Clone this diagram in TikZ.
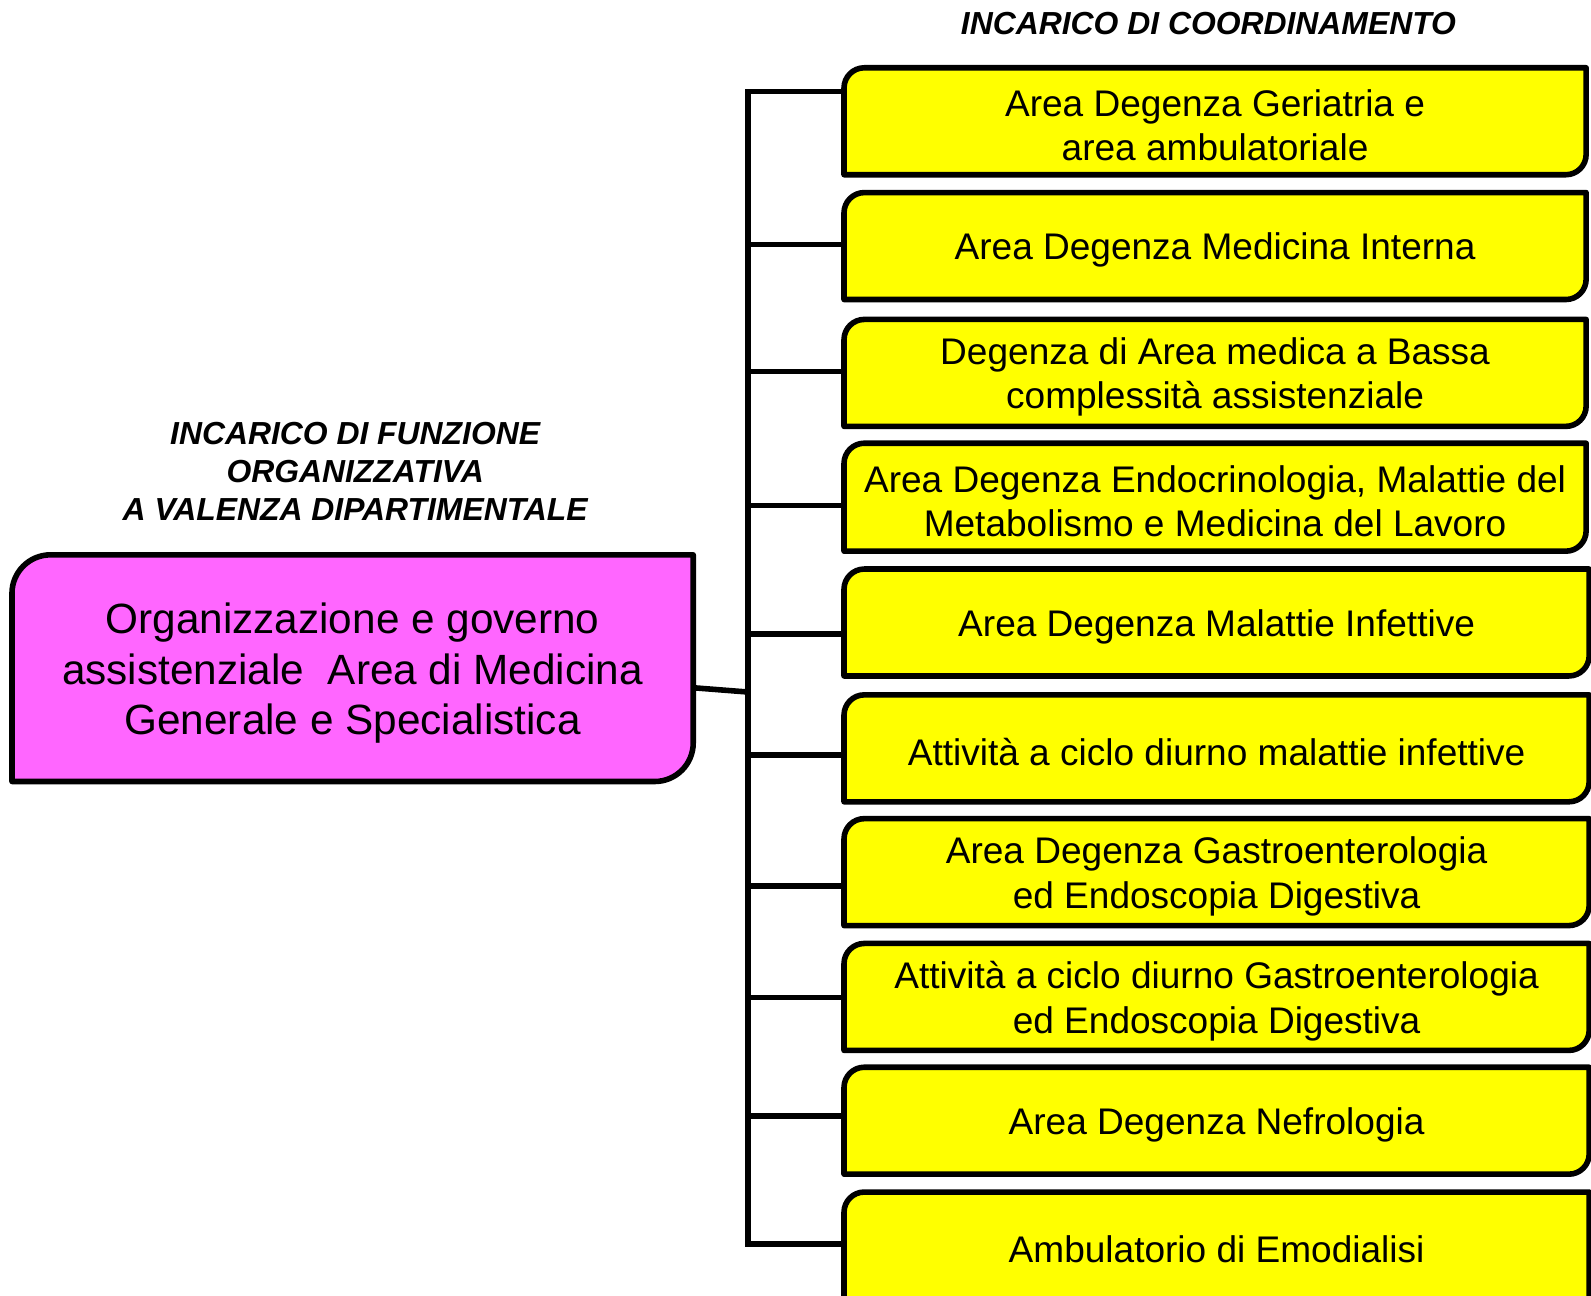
\documentclass[tikz,border=0pt]{standalone}
\usepackage{fontspec}
\setmainfont{Liberation Sans}
\usetikzlibrary{calc}
\definecolor{boxyellow}{HTML}{FFFF00}
\definecolor{boxpink}{HTML}{FF66FF}
\pgfdeclarelayer{bg}
\pgfsetlayers{bg,main}
\tikzset{
  ytext/.style={inner sep=0pt, align=center, font=\fontsize{36.5}{44}\selectfont, minimum height=105pt},
  ptext/.style={inner sep=0pt, align=center, font=\fontsize{41.7}{50}\selectfont, minimum width=671pt, minimum height=223pt},
  head/.style={inner sep=0pt, align=center, font=\fontsize{31.4}{37.5}\selectfont\bfseries\itshape},
  outline/.style={line width=5.5pt, draw=black, line join=round},
  conn/.style={line width=5.5pt, draw=black, line join=miter},
}
% #1 node name, #2 corner radius, #3 fill colour, #4 extension of the bottom edge, #5 upward offset of the outline
\newcommand{\snipbox}[5]{%
  \begin{pgfonlayer}{bg}
  \draw[outline, fill=#3]
    ($(#1.south west)+(0,#5-#4)$) -- ($(#1.north west)+(0,#5-#2)$)
    arc[start angle=180, end angle=90, radius=#2]
    -- ($(#1.north east)+(0,#5)$) -- ($(#1.south east)+(0,#5+#2-#4)$)
    arc[start angle=0, end angle=-90, radius=#2]
    -- cycle;
  \end{pgfonlayer}}
\begin{document}
\begin{tikzpicture}[x=1pt,y=1pt]
\useasboundingbox (0,0) rectangle (1568,-1276.3);
\begin{pgfonlayer}{bg}
\fill[white] (0,0) rectangle (1568,-1276.3);
\end{pgfonlayer}

% headers
\node[head] (h1) at (1191,-23) {INCARICO DI COORDINAMENTO};
\node[head] (h2) at (350,-465) {INCARICO DI FUNZIONE\\ORGANIZZATIVA\\A VALENZA DIPARTIMENTALE};

% main box (text 5 units lower than the outline centre)
\node[ptext] (p) at (347.5,-663.5) {Organizzazione e governo\\assistenziale~ Area di Medicina\\Generale e Specialistica};
\snipbox{p}{38}{boxpink}{0}{5}

% yellow boxes (text 4 units lower than the outline centre)
\node[ytext, minimum width=731pt] (b1) at (1197.5,-123.5) {Area Degenza Geriatria e\\area ambulatoriale};
\node[ytext, minimum width=731pt] (b2) at (1197.5,-246.5) {Area Degenza Medicina Interna};
\node[ytext, minimum width=731pt] (b3) at (1197.5,-371.5) {Degenza di Area medica a Bassa\\complessità assistenziale};
\node[ytext, minimum width=731pt, minimum height=106pt] (b4) at (1197.5,-494) {Area Degenza Endocrinologia, Malattie del\\Metabolismo e Medicina del Lavoro};
\node[ytext, minimum width=734pt] (b5) at (1199,-617.5) {Area Degenza Malattie Infettive};
\node[ytext, minimum width=734pt] (b6) at (1199,-741.5) {Attività a ciclo diurno malattie infettive};
\node[ytext, minimum width=734pt] (b7) at (1199,-863.5) {Area Degenza Gastroenterologia\\ed Endoscopia Digestiva};
\node[ytext, minimum width=734pt] (b8) at (1199,-986.5) {Attività a ciclo diurno Gastroenterologia\\ed Endoscopia Digestiva};
\node[ytext, minimum width=734pt] (b9) at (1199,-1108.5) {Area Degenza Nefrologia};
\node[ytext, minimum width=734pt] (b10) at (1199,-1231.5) {Ambulatorio di Emodialisi};
\foreach \b in {b1,b2,b3,b4,b5,b6,b7,b8,b9}{\snipbox{\b}{20}{boxyellow}{0}{4}}
\snipbox{b10}{20}{boxyellow}{40}{4}

% trunk coordinates
\coordinate (t1) at (737,-90);
\coordinate (t2) at (737,-241);
\coordinate (t3) at (737,-366);
\coordinate (t4) at (737,-498);
\coordinate (t5) at (737,-625);
\coordinate (t6) at (737,-744);
\coordinate (t7) at (737,-873);
\coordinate (t8) at (737,-983);
\coordinate (t9) at (737,-1100);
\coordinate (t10) at (737,-1226);
\coordinate (tm) at (737,-682);
\coordinate (pc) at ($(p.north east)+(0,-126)$);

\draw[conn] (t1 -| b1.west) -- (t1) -- (t10) -- (t10 -| b10.west);
\foreach \i in {2,...,9}{\draw[conn] (t\i) -- (t\i -| b\i.west);}
\draw[conn] (pc) -- (tm);
\end{tikzpicture}
\end{document}
